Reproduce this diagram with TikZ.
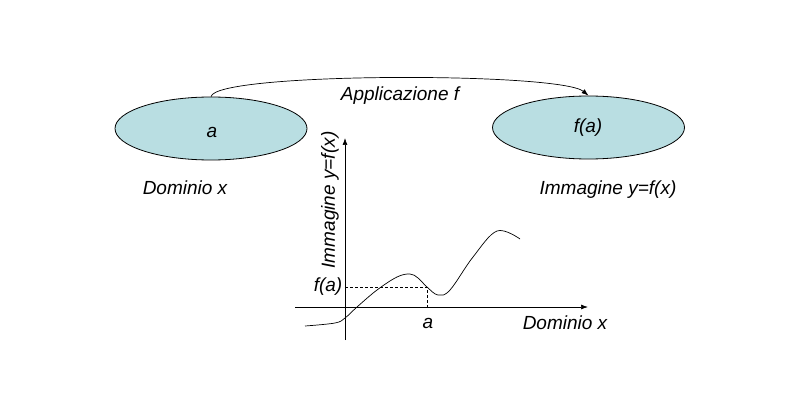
\documentclass[tikz,border=0pt]{standalone}
\usepackage{fontspec}
\setmainfont{Liberation Sans}
\usetikzlibrary{arrows.meta,shapes.geometric}
\definecolor{setfill}{HTML}{B9DEE2}
\begin{document}
\begin{tikzpicture}[x=1pt,y=-1pt,
  lbl/.style={font=\fontsize{19}{22}\selectfont\itshape, inner sep=0pt},
  setell/.style={ellipse, draw=black, line width=0.8pt, fill=setfill, minimum width=192pt, minimum height=63pt},
  arr/.style={-{Latex[length=7pt,width=5pt]}, line width=0.7pt},
  axis/.style={-{Latex[length=7pt,width=5pt]}, line width=0.7pt},
  guide/.style={dashed, dash pattern=on 3pt off 2pt, line width=0.5pt}]
\useasboundingbox (0,0) rectangle (801,401);
\node[setell] (A) at (211,128.5) {};
\node[setell] (B) at (588.5,127.5) {};
\node[lbl] (la) at (212,132) {a};
\node[lbl] (lfa) at (588,128) {f(a)};
\node[lbl] (dom) at (185,188) {Dominio x};
\node[lbl] (img) at (608,190) {Immagine y=f(x)};
\node[lbl] (app) at (400,96) {Applicazione f};
\draw[arr] (A.north) .. controls (216,72) and (560,72) .. (B.north);
% axes
\coordinate (yb) at (345,340);
\coordinate (yt) at (345,138);
\coordinate (xl) at (295,307);
\coordinate (xr) at (588,307);
\draw[axis] (yb) -- (yt);
\draw[axis] (xl) -- (xr);
\node[lbl, rotate=90] (yl) at (330,200) {Immagine y=f(x)};
\node[lbl] (fa) at (328,287) {f(a)};
\node[lbl] (aa) at (428,323) {a};
\node[lbl] (dx) at (565,323) {Dominio x};
\coordinate (p) at (427,287);
\coordinate (py) at (345,287);
\coordinate (px) at (427,307);
\draw[guide] (py) -- (p) -- (px);
\draw[line width=0.7pt] plot[smooth, tension=0.6] coordinates {(305,326) (335,323) (345,318) (357,307) (377,290) (397,277) (410,274) (418,278) (427,287) (438,295) (450,290) (473,257) (497,231) (520,239)};
\end{tikzpicture}
\end{document}
